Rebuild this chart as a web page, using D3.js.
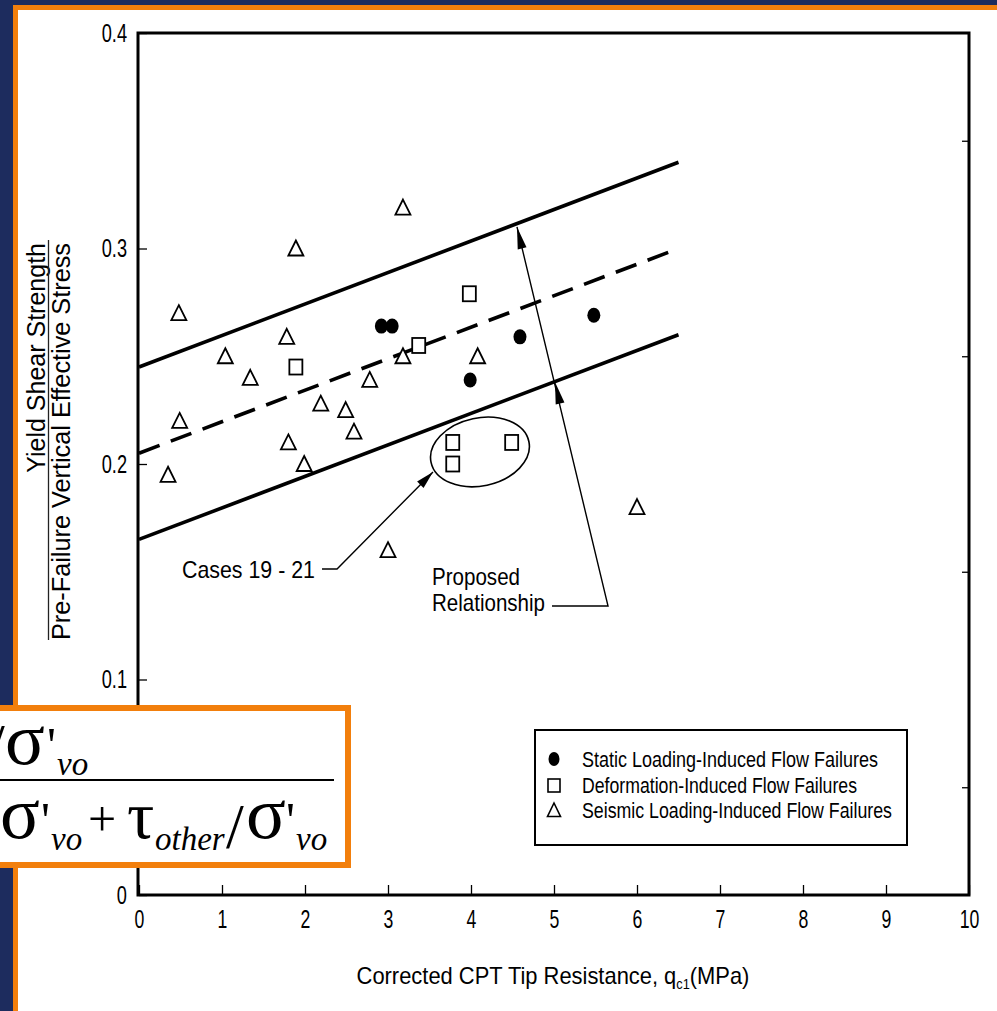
<!DOCTYPE html>
<html>
<head>
<meta charset="utf-8">
<script src="https://cdn.jsdelivr.net/npm/d3@7"></script>
<style>
  html,body{margin:0;padding:0;background:#1d2c5e;}
  svg{display:block;}
</style>
</head>
<body>
<svg id="chart" width="997" height="1011" font-family="Liberation Sans, Arial, Helvetica, sans-serif"></svg>
<script>
// ---------------- data ----------------
const xTicks = [0,1,2,3,4,5,6,7,8,9,10];
const yTicks = [0,0.1,0.2,0.3,0.4];
const yMinorRight = [0.05,0.15,0.25,0.35];

// Static loading-induced flow failures (filled circles)
const staticX = [2.92, 3.05, 4.59, 5.48, 3.99];
const staticY = [0.264, 0.264, 0.259, 0.269, 0.239];
// Deformation-induced flow failures (open squares)
const deformX = [1.89, 3.37, 3.98, 3.78, 3.78, 4.49];
const deformY = [0.245, 0.255, 0.279, 0.210, 0.200, 0.210];
// Seismic loading-induced flow failures (open triangles)
const seismicX = [0.48,0.49,0.35,1.04,1.34,1.89,1.78,1.80,1.99,2.19,2.49,2.59,2.78,3.00,3.18,3.18,4.08,6.00];
const seismicY = [0.270,0.220,0.195,0.250,0.240,0.300,0.259,0.210,0.200,0.228,0.225,0.215,0.239,0.160,0.319,0.250,0.250,0.180];

// Proposed relationship (mean, upper and lower bounds)
const relX = [0, 6.5];
const upperY = [0.245, 0.340];
const meanY = [0.205, 0.300];
const lowerY = [0.165, 0.260];

const legendLabels = ["Static Loading-Induced Flow Failures","Deformation-Induced Flow Failures","Seismic Loading-Induced Flow Failures"];

// annotation anchor points (data units)
const casesPath = [[2.205,0.1513],[2.386,0.1513],[3.542,0.1963]];
const casesEllipse = [4.108,0.2056];
const proposedPath = [[4.976,0.1341],[5.651,0.1341],[4.554,0.310]];
const proposedLowerTip = [5.012,0.238];

// ---------------- drawing ----------------
const svg = d3.select("#chart");
const W = 997, H = 1011;

// slide background
svg.append("rect").attr("width",W).attr("height",H).attr("fill","#1d2c5e");
svg.append("rect").attr("x",13).attr("y",5).attr("width",W-13).attr("height",H-5).attr("fill","#f27f0c");
svg.append("rect").attr("x",18).attr("y",10).attr("width",W-18).attr("height",H-10).attr("fill","#ffffff");

const x = d3.scaleLinear().domain([0,10]).range([139,969]);
const y = d3.scaleLinear().domain([0,0.4]).range([895,33]);

function squeezeTo(sel, w){ sel.attr("textLength", w).attr("lengthAdjust","spacingAndGlyphs"); }
function squeezeBy(sel, f){ sel.each(function(){ const w=this.getComputedTextLength(); d3.select(this).attr("textLength", w*f).attr("lengthAdjust","spacingAndGlyphs"); }); }

// axes
const gx = svg.append("g").attr("transform",`translate(0,${y(0)})`)
  .call(d3.axisBottom(x).tickValues(xTicks).tickSize(-10).tickSizeOuter(0).tickPadding(15).tickFormat(d3.format("d")));
gx.select(".domain").remove();
gx.attr("font-family",null);
gx.selectAll("line").attr("stroke","#000").attr("stroke-width",1.3);
gx.selectAll("text").attr("font-size",26).attr("fill","#000").call(squeezeBy,0.68);

const gy = svg.append("g").attr("transform",`translate(${x(0)},0)`)
  .call(d3.axisLeft(y).tickValues(yTicks).tickSize(-8).tickSizeOuter(0).tickPadding(12)
    .tickFormat(d => d===0 ? "0" : d3.format(".1f")(d)));
gy.select(".domain").remove();
gy.attr("font-family",null);
gy.selectAll("line").attr("stroke","#000").attr("stroke-width",1.3);
gy.selectAll("text").attr("font-size",26).attr("fill","#000").call(squeezeBy,0.7);

const gr = svg.append("g").attr("transform",`translate(${x(10)},0)`)
  .call(d3.axisRight(y).tickValues(yMinorRight).tickSize(-7).tickSizeOuter(0).tickFormat(""));
gr.select(".domain").remove();
gr.selectAll("line").attr("stroke","#000").attr("stroke-width",1.3);

// frame
svg.append("rect").attr("x",x(0)-1).attr("y",y(0.4)).attr("width",x(10)-x(0)+1).attr("height",y(0)-y(0.4))
  .attr("fill","none").attr("stroke","#000").attr("stroke-width",3);

// relationship lines
const line = d3.line().x(d=>x(d[0])).y(d=>y(d[1]));
svg.append("path").attr("d",line(relX.map((v,i)=>[v,upperY[i]]))).attr("stroke","#000").attr("stroke-width",3.6).attr("fill","none");
svg.append("path").attr("d",line(relX.map((v,i)=>[v,lowerY[i]]))).attr("stroke","#000").attr("stroke-width",3.6).attr("fill","none");
svg.append("path").attr("d",line(relX.map((v,i)=>[v,meanY[i]]))).attr("stroke","#000").attr("stroke-width",3.6).attr("fill","none")
  .attr("stroke-dasharray","22,12");

// markers
const triPath = "M0,-8L7.5,7L-7.5,7Z";
svg.append("g").selectAll("path").data(seismicX.map((v,i)=>[v,seismicY[i]])).join("path")
  .attr("d",triPath).attr("transform",d=>`translate(${x(d[0])},${y(d[1])})`)
  .attr("fill","#fff").attr("stroke","#000").attr("stroke-width",1.8).attr("stroke-linejoin","miter");
svg.append("g").selectAll("rect").data(deformX.map((v,i)=>[v,deformY[i]])).join("rect")
  .attr("x",d=>x(d[0])-6.5).attr("y",d=>y(d[1])-7.5).attr("width",13).attr("height",15)
  .attr("fill","#fff").attr("stroke","#000").attr("stroke-width",1.8);
svg.append("g").selectAll("ellipse").data(staticX.map((v,i)=>[v,staticY[i]])).join("ellipse")
  .attr("cx",d=>x(d[0])).attr("cy",d=>y(d[1])).attr("rx",6.5).attr("ry",7.5).attr("fill","#000");

// arrowhead helper
function arrowHead(tip, from, len, half){
  const dx = tip[0]-from[0], dy = tip[1]-from[1];
  const L = Math.hypot(dx,dy), ux = dx/L, uy = dy/L;
  const bx = tip[0]-ux*len, by = tip[1]-uy*len;
  svg.append("path").attr("d",`M${tip[0]},${tip[1]}L${bx - uy*half},${by + ux*half}L${bx + uy*half},${by - ux*half}Z`).attr("fill","#000");
}

// Cases 19-21 annotation
svg.append("ellipse").attr("cx",x(casesEllipse[0])).attr("cy",y(casesEllipse[1])).attr("rx",50).attr("ry",34)
  .attr("transform",`rotate(-12,${x(casesEllipse[0])},${y(casesEllipse[1])})`)
  .attr("fill","none").attr("stroke","#000").attr("stroke-width",1.6);
const cp = casesPath.map(d=>[x(d[0]),y(d[1])]);
svg.append("path").attr("d",d3.line()(cp)).attr("fill","none").attr("stroke","#000").attr("stroke-width",1.4);
arrowHead(cp[2], cp[1], 18, 4.5);
svg.append("text").attr("x",315).attr("y",578).attr("text-anchor","end").attr("font-size",24)
  .text("Cases 19 - 21").call(squeezeTo,133);

// Proposed relationship annotation
const pp = proposedPath.map(d=>[x(d[0]),y(d[1])]);
svg.append("path").attr("d",d3.line()(pp)).attr("fill","none").attr("stroke","#000").attr("stroke-width",1.4);
arrowHead(pp[2], pp[1], 22, 4.5);
arrowHead([x(proposedLowerTip[0]),y(proposedLowerTip[1])], pp[1], 22, 4.5);
svg.append("text").attr("x",432).attr("y",585).attr("font-size",24).text("Proposed").call(squeezeTo,88);
svg.append("text").attr("x",432).attr("y",611).attr("font-size",24).text("Relationship").call(squeezeTo,113);

// legend
svg.append("rect").attr("x",535).attr("y",730).attr("width",372).attr("height",115)
  .attr("fill","#fff").attr("stroke","#000").attr("stroke-width",2);
svg.append("ellipse").attr("cx",554).attr("cy",759).attr("rx",5.5).attr("ry",7).attr("fill","#000");
svg.append("rect").attr("x",548).attr("y",779).attr("width",12).attr("height",13).attr("fill","#fff").attr("stroke","#000").attr("stroke-width",1.6);
svg.append("path").attr("d","M0,-7L6.5,6.5L-6.5,6.5Z").attr("transform","translate(554,810)").attr("fill","#fff").attr("stroke","#000").attr("stroke-width",1.6);
const legW = [296,275,310];
legendLabels.forEach((t,i)=>{
  svg.append("text").attr("x",582).attr("y",767+i*25.5).attr("font-size",22).text(t).call(squeezeTo,legW[i]);
});

// y axis title (fraction)
svg.append("text").attr("transform","translate(45,243) rotate(-90)").attr("text-anchor","end")
  .attr("font-size",25).text("Yield Shear Strength");
svg.append("line").attr("x1",48.5).attr("x2",48.5).attr("y1",240).attr("y2",640).attr("stroke","#222").attr("stroke-width",1.3);
svg.append("text").attr("transform","translate(70,243) rotate(-90)").attr("text-anchor","end")
  .attr("font-size",25).text("Pre-Failure Vertical Effective Stress").call(squeezeTo,397);

// x axis title
const xt = svg.append("text").attr("x",553).attr("y",984).attr("text-anchor","middle").attr("font-size",24);
xt.append("tspan").text("Corrected CPT Tip Resistance, q");
xt.append("tspan").attr("font-size",14).attr("dy",5).text("c1");
xt.append("tspan").attr("dy",-5).text("(MPa)");
{
  const w = xt.node().getComputedTextLength();
  const k = 393 / w;
  xt.attr("transform",`translate(553,0) scale(${k},1) translate(-553,0)`);
}

// formula box (orange framed)
svg.append("rect").attr("x",-10).attr("y",708).attr("width",358).attr("height",157)
  .attr("fill","#fff").attr("stroke","#f27f0c").attr("stroke-width",6);
const serif = "Liberation Serif, Times New Roman, serif";
function ft(xp, yp, str, size, italic){
  return svg.append("text").attr("x",xp).attr("y",yp).attr("font-family",serif).attr("font-size",size)
    .attr("font-style", italic ? "italic" : "normal").attr("fill","#000").text(str);
}
// numerator (partially visible)
ft(-13, 768, "/", 64, false);
ft(5, 764, "\u03C3", 74, false);
ft(47, 762, "'", 50, false);
ft(57, 775, "vo", 33, true);
svg.append("line").attr("x1",0).attr("x2",334).attr("y1",780).attr("y2",780).attr("stroke","#000").attr("stroke-width",2);
// denominator
ft(0, 838, "\u03C3", 74, false);
ft(41, 837, "'", 50, false);
ft(51, 850, "vo", 33, true);
ft(88, 836, "+", 50, false);
ft(127, 838, "\u03C4", 68, false);
ft(155, 850, "other", 33, true);
ft(226, 848, "/", 64, false);
ft(246, 838, "\u03C3", 74, false);
ft(286, 837, "'", 50, false);
ft(296, 850, "vo", 33, true);
</script>
</body>
</html>
